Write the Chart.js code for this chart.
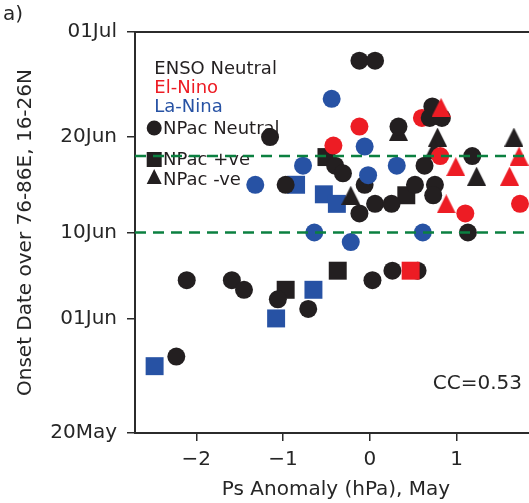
<!DOCTYPE html>
<html>
<head>
<meta charset="utf-8">
<script src="https://cdn.jsdelivr.net/npm/chart.js@4.4.0/dist/chart.umd.min.js"></script>
<style>
  html, body { margin: 0; padding: 0; background: #fff; overflow: hidden; }
  #wrap { width: 529px; height: 503px; overflow: hidden; }
  #myChart { width: 537px; height: 503px; }
</style>
</head>
<body>
<div id="wrap"><canvas id="myChart" width="537" height="503"></canvas></div>
<script>
document.addEventListener('DOMContentLoaded', () => {
    // Axis ticks (y values are day of year: 140 = 20 May)
    const yTickDays = [140, 152, 161, 171, 182];
    const yTickLabels = ['20May', '01Jun', '10Jun', '20Jun', '01Jul'];
    const xTicks = [-2, -1, 0, 1];
    const refLineDays = [169, 161];   // 18Jun and 10Jun reference lines
    const ensoLabels = ['ENSO Neutral', 'El-Nino', 'La-Nina'];
    const npacLabels = ['NPac Neutral', 'NPac +ve', 'NPac -ve'];
    const ccText = 'CC=0.53';

    // [Ps anomaly (hPa), onset day of year]
    const neutralCircle = [[-2.11, 156], [-1.59, 156], [-1.45, 155], [-2.23, 148], [-1.06, 154],
        [-0.71, 153], [0.03, 156], [0.26, 157], [0.55, 157], [-0.97, 166], [-0.12, 163], [0.06, 164],
        [0.25, 164], [-0.40, 168], [-0.31, 167.2], [-0.06, 166], [-0.12, 179], [0.06, 179],
        [0.33, 172.1], [-1.15, 171], [0.52, 166], [0.63, 168], [0.75, 166], [0.73, 164.9],
        [1.13, 161], [1.18, 169], [0.72, 174.2], [0.69, 173], [0.83, 173]];
    const neutralSquare = [[-0.97, 155], [-0.37, 157], [-0.50, 168.9], [0.42, 164.9]];
    const neutralTriangle = [[-0.22, 164.9], [0.33, 171.6], [0.78, 171], [0.74, 169.7], [1.23, 166.9], [1.66, 171]];
    const ninoCircle = [[-0.12, 172.1], [-0.42, 170.1], [0.60, 173], [0.81, 169], [1.10, 163], [1.73, 164]];
    const ninoSquare = [[0.47, 157]];
    const ninoTriangle = [[0.82, 174.1], [0.99, 167.9], [1.61, 166.9], [1.72, 169], [0.88, 164]];
    const ninaCircle = [[-1.32, 166], [-0.77, 168], [-0.44, 175], [-0.06, 170], [-0.02, 167],
        [0.31, 168], [-0.64, 161], [-0.22, 160], [0.61, 161]];
    const ninaSquare = [[-0.85, 166], [-0.53, 165], [-0.38, 164], [-1.08, 152], [-0.65, 155], [-2.48, 147]];

    const black = '#231f20';
    const red = '#ed1c24';
    const blue = '#2752a4';
    const green = '#0b8040';
    const axisColor = '#2b2b2b';
    const font = '"DejaVu Sans", sans-serif';

    // matplotlib style "^" marker as a small canvas
    function triangleMarker(color, size) {
        const c = document.createElement('canvas');
        c.width = size; c.height = size;
        const g = c.getContext('2d');
        g.fillStyle = color;
        g.beginPath();
        g.moveTo(size / 2, 0);
        g.lineTo(size, size);
        g.lineTo(0, size);
        g.closePath();
        g.fill();
        return c;
    }

    const toPts = arr => arr.map(p => ({x: p[0], y: p[1]}));

    function series(label, data, color, shape) {
        const ds = {label: label, data: toPts(data), backgroundColor: color, borderWidth: 0,
            pointRadius: 9, pointHoverRadius: 9};
        if (shape === 'rect') { ds.pointStyle = 'rect'; ds.pointRadius = 12.7; ds.pointHoverRadius = 12.7; }
        else if (shape === 'triangle') { ds.pointStyle = triangleMarker(color, 19); }
        else ds.pointStyle = 'circle';
        return ds;
    }

    const extras = {
        id: 'extras',
        afterDatasetsDraw(chart) {
            const {ctx, chartArea: a, scales: {y}} = chart;
            ctx.save();
            // top spine
            ctx.strokeStyle = axisColor;
            ctx.lineWidth = 2;
            ctx.beginPath();
            ctx.moveTo(a.left - 1, a.top);
            ctx.lineTo(a.right, a.top);
            ctx.stroke();

            // legend
            ctx.font = '18px ' + font;
            ctx.textAlign = 'left';
            ctx.textBaseline = 'alphabetic';
            const ensoColors = [black, red, blue];
            const ensoBase = [42.3, 61.3, 80.3];
            ensoLabels.forEach((t, i) => {
                ctx.fillStyle = ensoColors[i];
                ctx.fillText(t, a.left + 19.3, a.top + ensoBase[i]);
            });
            const npacBase = [101.6, 133.3, 152.6];
            const markY = [96, 127.5, 144.5];
            const mx = a.left + 19.2;
            ctx.fillStyle = black;
            npacLabels.forEach((t, i) => {
                const my = a.top + markY[i];
                ctx.beginPath();
                if (i === 0) ctx.arc(mx, my, 7.5, 0, Math.PI * 2);
                else if (i === 1) ctx.rect(mx - 7.5, my - 7.5, 15, 15);
                else { ctx.moveTo(mx, my - 7.5); ctx.lineTo(mx + 7.5, my + 7.5); ctx.lineTo(mx - 7.5, my + 7.5); ctx.closePath(); }
                ctx.fill();
                ctx.fillText(t, a.left + 28, a.top + npacBase[i]);
            });

            // dashed reference lines
            ctx.setLineDash([11, 7]);
            ctx.strokeStyle = green;
            ctx.lineWidth = 2.5;
            refLineDays.forEach(d => {
                const py = y.getPixelForValue(d);
                ctx.beginPath();
                ctx.moveTo(a.left, py);
                ctx.lineTo(a.right, py);
                ctx.stroke();
            });
            ctx.setLineDash([]);

            // correlation text and panel label
            ctx.fillStyle = '#262626';
            ctx.font = '20px ' + font;
            ctx.textAlign = 'right';
            ctx.textBaseline = 'middle';
            ctx.fillText(ccText, a.left + 387, a.top + 352);
            ctx.textAlign = 'left';
            ctx.fillText('a)', 3, 15);
            ctx.restore();
        }
    };

    const ctx1 = document.getElementById('myChart').getContext('2d');
    new Chart(ctx1, {
        type: 'scatter',
        data: {
            datasets: [
                series('El-Nino -ve', ninoTriangle, red, 'triangle'),
                series('El-Nino +ve', ninoSquare, red, 'rect'),
                series('La-Nina neutral', ninaCircle, blue, 'circle'),
                series('Neutral neutral', neutralCircle, black, 'circle'),
                series('El-Nino neutral', ninoCircle, red, 'circle'),
                series('Neutral -ve', neutralTriangle, black, 'triangle'),
                series('Neutral +ve', neutralSquare, black, 'rect'),
                series('La-Nina +ve', ninaSquare, blue, 'rect')
            ]
        },
        options: {
            responsive: false,
            animation: false,
            devicePixelRatio: 1,
            layout: {autoPadding: false, padding: {top: 32, left: 0, right: 0, bottom: 0}},
            plugins: {legend: {display: false}, tooltip: {enabled: false}},
            scales: {
                x: {
                    type: 'linear',
                    min: -2.706,
                    max: 1.926,
                    afterBuildTicks: s => { s.ticks = xTicks.map(v => ({value: v})); },
                    afterFit: s => { s.height = 70; },
                    grid: {drawOnChartArea: false, drawTicks: true, tickLength: 8, color: axisColor, lineWidth: 1.5},
                    border: {display: true, color: axisColor, width: 2},
                    ticks: {
                        autoSkip: false, maxRotation: 0, padding: 7, color: '#262626',
                        font: {family: font, size: 20},
                        callback: v => String(v).replace('-', '\u2212')
                    },
                    title: {display: true, text: 'Ps Anomaly (hPa), May', color: '#262626',
                        font: {family: font, size: 20}, padding: {top: 0, bottom: 1}}
                },
                y: {
                    type: 'linear',
                    min: 140,
                    max: 182,
                    afterBuildTicks: s => { s.ticks = yTickDays.map(v => ({value: v})); },
                    afterFit: s => { s.width = 135; },
                    grid: {drawOnChartArea: false, drawTicks: true, tickLength: 8, color: axisColor, lineWidth: 1.5},
                    border: {display: true, color: axisColor, width: 2},
                    ticks: {
                        autoSkip: false, padding: 10, color: '#262626',
                        font: {family: font, size: 20},
                        callback: v => yTickLabels[yTickDays.indexOf(v)]
                    },
                    title: {display: true, text: 'Onset Date over 76-86E, 16-26N', color: '#262626',
                        font: {family: font, size: 20}, padding: {top: 13.5, bottom: 0}}
                }
            }
        },
        plugins: [extras]
    });
});
</script>
</body>
</html>
